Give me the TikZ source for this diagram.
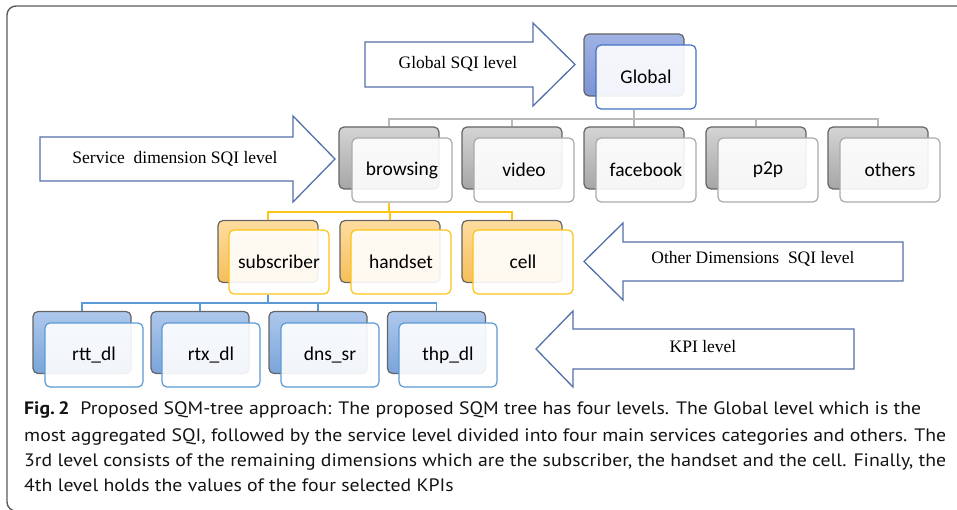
\documentclass[tikz,border=0pt]{standalone}
\usepackage{fontspec}
\usepackage{graphicx}
\setmainfont{Liberation Serif}
\newfontfamily\boxfont{Carlito}
\newfontfamily\capfont{PT Sans}
\usetikzlibrary{calc}
\definecolor{arrowc}{RGB}{84,112,170}
\definecolor{frameC}{RGB}{90,90,90}
\definecolor{gbTop}{RGB}{160,178,228}
\definecolor{gbBot}{RGB}{124,148,214}
\definecolor{gfront}{RGB}{68,114,196}
\definecolor{sbTop}{RGB}{212,212,212}
\definecolor{sbBot}{RGB}{166,166,166}
\definecolor{sfront}{RGB}{170,170,170}
\definecolor{obTop}{RGB}{255,221,160}
\definecolor{obBot}{RGB}{246,190,90}
\definecolor{ofront}{RGB}{252,196,20}
\definecolor{kbTop}{RGB}{174,200,236}
\definecolor{kbBot}{RGB}{122,164,218}
\definecolor{kfront}{RGB}{91,155,213}
\definecolor{backedge}{RGB}{100,100,100}
\definecolor{gline}{RGB}{185,185,185}
\definecolor{oline}{RGB}{252,196,20}
\definecolor{kline}{RGB}{91,155,213}
\definecolor{captext}{RGB}{20,20,20}
\newlength\capw
\newcommand\capsize{\capfont\fontsize{18}{21}\selectfont}
\begin{document}
\settowidth\capw{\capsize most aggregated SQI, followed by the service level divided into four main services categories and others. The}%
\pgfmathsetmacro\capsc{922/\capw}%
\begin{tikzpicture}[x=1pt,y=-1pt,
  box/.style={rounded corners=5pt, inner sep=0pt, line width=1.2pt},
  backbox/.style={box, draw=backedge, minimum width=100pt, minimum height=62pt},
  frontbox/.style={box, fill=white, fill opacity=0.9, text opacity=1, minimum width=100pt, minimum height=64pt, font=\boxfont\fontsize{19.5}{22}\selectfont},
  gback/.style={backbox, top color=gbTop, bottom color=gbBot},
  gfr/.style={frontbox, draw=gfront},
  sback/.style={backbox, top color=sbTop, bottom color=sbBot},
  sfr/.style={frontbox, draw=sfront},
  oback/.style={backbox, top color=obTop, bottom color=obBot},
  ofr/.style={frontbox, draw=ofront},
  kback/.style={backbox, top color=kbTop, bottom color=kbBot, minimum width=98pt},
  kfr/.style={frontbox, draw=kfront, minimum width=98pt},
  conn/.style={line width=1.5pt},
  bigarrow/.style={draw=arrowc, fill=white, line width=1.3pt, line join=miter},
  arrowtext/.style={inner sep=0pt, font=\fontsize{17.5}{20}\selectfont},
  capline/.style={anchor=base west, inner sep=0pt, text=captext}
]
\useasboundingbox (0,0) rectangle (957,510);
% frame
\draw[frameC, line width=1.4pt, rounded corners=9pt] (960,6) -- (7,6) -- (7,511) -- (960,511);

% bus coordinates
\coordinate (bus1) at (0,119);
\coordinate (bus2) at (0,212);
\coordinate (bus3) at (0,303);

% Global
\node[gback] (gb) at (634,65) {};
\node[gfr] (g) at (646,77) {Global};

% services
\node[sback] (s1b) at (389,158) {};
\node[sback] (s2b) at (512,158) {};
\node[sback] (s3b) at (634,158) {};
\node[sback] (s4b) at (756,158) {};
\node[sback] (s5b) at (878,158) {};
\node[sfr] (s1) at (402,170) {browsing};
\node[sfr] (s2) at (524,170) {video};
\node[sfr] (s3) at (646,170) {facebook};
\node[sfr] (s4) at (768,170) {p2p};
\node[sfr] (s5) at (890,170) {others};

% other dimensions
\node[oback] (o1b) at (268,251.5) {};
\node[oback] (o2b) at (390,251.5) {};
\node[oback] (o3b) at (512,251.5) {};
\node[ofr] (o1) at (279,262) {subscriber};
\node[ofr] (o2) at (401,262) {handset};
\node[ofr] (o3) at (523,262) {cell};

% KPIs
\node[kback] (k1b) at (82,342.5) {};
\node[kback] (k2b) at (200,342.5) {};
\node[kback] (k3b) at (318,342.5) {};
\node[kback] (k4b) at (436.5,342.5) {};
\node[kfr] (k1) at (94,355) {rtt\_dl};
\node[kfr] (k2) at (211,355) {rtx\_dl};
\node[kfr] (k3) at (330,355) {dns\_sr};
\node[kfr] (k4) at (448,355) {thp\_dl};

% connectors
\foreach \c in {s1b,s2b,s3b,s4b,s5b}
  \draw[conn, gline] (gb.center |- g.south) |- (bus1 -| \c.north) -- (\c.north);
\foreach \c in {o1b,o2b,o3b}
  \draw[conn, oline] (s1b.center |- s1.south) |- (bus2 -| \c.north) -- (\c.north);
\foreach \c in {k1b,k2b,k3b,k4b}
  \draw[conn, kline] (o1b.center |- o1.south) |- (bus3 -| \c.north) -- (\c.north);

% level arrows
\draw[bigarrow] (365,42) -- (533,42) -- (533,23) -- (575,64.5) -- (533,106) -- (533,87) -- (365,87) -- cycle;
\node[arrowtext] (ga) at (458,64) {Global SQI level};

\draw[bigarrow] (40,137) -- (293,137) -- (293,116) -- (335,159) -- (293,202) -- (293,181) -- (40,181) -- cycle;
\node[arrowtext] (sa) at (175,159) {Service\ \ dimension SQI level};

\draw[bigarrow] (903,242) -- (623,242) -- (623,223) -- (584,261.5) -- (623,300) -- (623,281) -- (903,281) -- cycle;
\node[arrowtext] (oa) at (753,259) {Other Dimensions\ \ SQI level};

\draw[bigarrow] (854,329) -- (573,329) -- (573,311) -- (536,349) -- (573,387) -- (573,369) -- (854,369) -- cycle;
\node[arrowtext] (ka) at (703,347) {KPI level};

% caption
\node[capline] (c1) at (24,414) {\scalebox{\capsc}[1]{\capsize\textbf{Fig.\,2}\hspace{10pt}Proposed SQM-tree approach: The proposed SQM tree has four levels. The Global level which is the}};
\node[capline] (c2) at (24,441) {\scalebox{\capsc}[1]{\capsize most aggregated SQI, followed by the service level divided into four main services categories and others. The}};
\node[capline] (c3) at (24,466.5) {\scalebox{\capsc}[1]{\capsize 3rd level consists of the remaining dimensions which are the subscriber, the handset and the cell. Finally, the}};
\node[capline] (c4) at (24,491) {\scalebox{\capsc}[1]{\capsize 4th level holds the values of the four selected KPIs}};
\end{tikzpicture}
\end{document}
